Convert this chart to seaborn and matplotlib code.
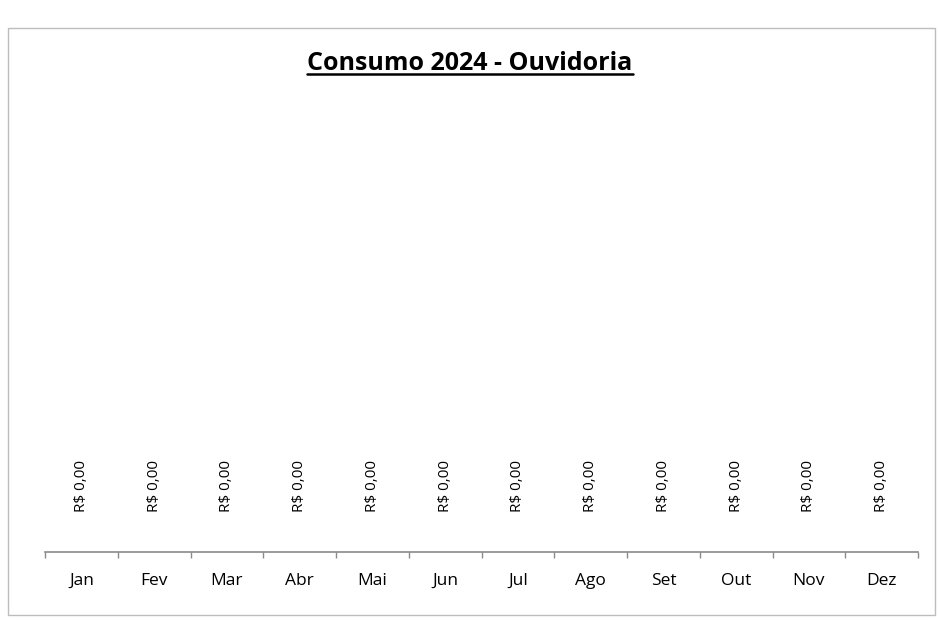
import matplotlib
matplotlib.use("Agg")
import matplotlib.pyplot as plt
import seaborn as sns
import pandas as pd
from matplotlib.patches import Rectangle
from matplotlib.lines import Line2D

months = ["Jan", "Fev", "Mar", "Abr", "Mai", "Jun", "Jul", "Ago", "Set", "Out", "Nov", "Dez"]
values = [0, 0, 0, 0, 0, 0, 0, 0, 0, 0, 0, 0]
title = "Consumo 2024 - Ouvidoria"

sns.set_theme(style="white")
plt.rcParams['font.family'] = ['Open Sans', 'DejaVu Sans']

df = pd.DataFrame({"mes": months, "valor": values})

fig = plt.figure(figsize=(9.38, 6.22), dpi=100)
fig.patch.set_facecolor("white")
ax = fig.add_axes([45/938, 1-552/622, (918-45)/938, (552-110)/622])

sns.barplot(data=df, x="mes", y="valor", ax=ax, color="#4472C4", order=months)
ax.set_ylim(0, 1)
ax.set_xlim(-0.5, len(months)-0.5)

for c in ax.containers:
    ax.bar_label(c, labels=[f"R$ {v:,.2f}".replace(",", "X").replace(".", ",").replace("X", ".") for v in values],
                 rotation=90, padding=29, fontsize=11, color="#000000")

for s in ["top", "right", "left"]:
    ax.spines[s].set_visible(False)
ax.spines["bottom"].set_color("#8a8a8a")
ax.spines["bottom"].set_linewidth(1.2)
ax.set_yticks([])
ax.set_xlabel("")
ax.set_ylabel("")
ax.set_xticks(range(len(months)))
ax.set_xticklabels(months, fontsize=12.5, color="#000000")
ax.tick_params(axis="x", which="major", length=0, pad=15)
ax.set_xticks([i - 0.5 for i in range(len(months)+1)], minor=True)
ax.tick_params(axis="x", which="minor", length=4, width=1.0, color="#8a8a8a", bottom=True)

# outer chart border
fig.add_artist(Rectangle((8/938, 1-615/622), (935-8)/938, (615-28)/622, transform=fig.transFigure,
                         fill=False, edgecolor="#bdbdbd", linewidth=1.0))

t = fig.text(470/938, 1-63/622, title, ha="center", va="center", fontsize=18,
             fontweight="bold", color="#000000")
fig.canvas.draw()
bb = t.get_window_extent(renderer=fig.canvas.get_renderer())
inv = fig.transFigure.inverted()
(x0, y0), (x1, y1) = inv.transform([(bb.x0, bb.y0 + 2), (bb.x1, bb.y0 + 2)])
fig.add_artist(Line2D([x0, x1], [y0, y1], transform=fig.transFigure, color="#000000", linewidth=1.8))

fig.savefig("out.png", dpi=100, facecolor="white")
